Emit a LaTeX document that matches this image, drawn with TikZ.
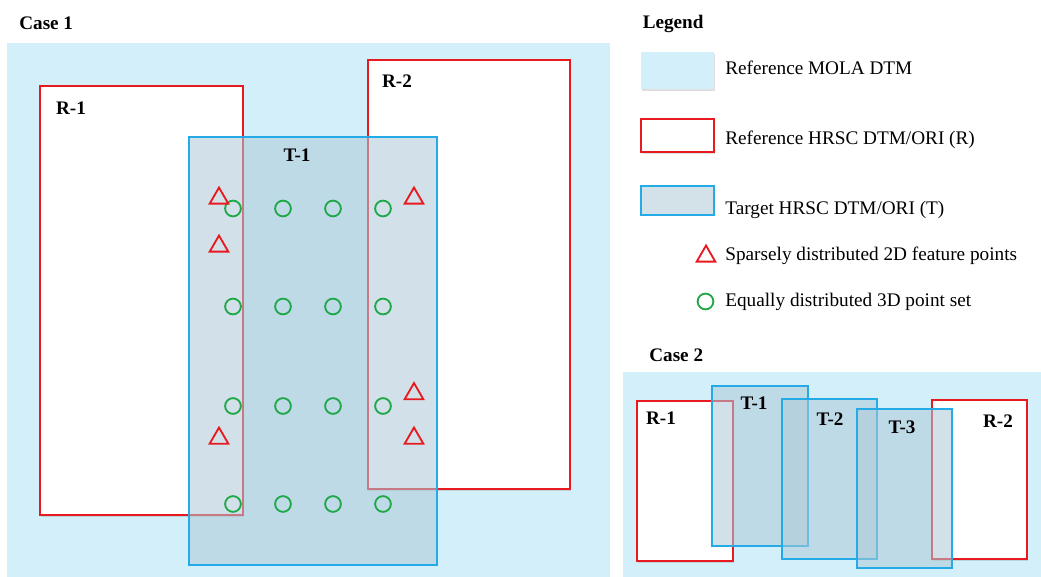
\documentclass[tikz,border=0pt]{standalone}
\usepackage{fontspec}
\setmainfont{Liberation Serif}
\usetikzlibrary{shapes.geometric, shadows}

\definecolor{molablue}{RGB}{210,239,250}
\definecolor{hrscred}{RGB}{232,26,32}
\definecolor{hrscblue}{RGB}{36,170,230}
\definecolor{tfill}{RGB}{174,202,215}
\definecolor{ptgreen}{RGB}{30,168,72}

\tikzset{
	boxshadow/.style={drop shadow={shadow xshift=0.5pt, shadow yshift=-1pt, opacity=0.25}},
	rbox/.style={draw=hrscred, line width=1.1pt, fill=white},
	tbox/.style={draw=hrscblue, line width=1.1pt, fill=tfill, fill opacity=0.55},
	lbl/.style={font=\bfseries\fontsize{10.9}{13}\selectfont, inner sep=0pt},
	txt/.style={font=\fontsize{10.95}{13}\selectfont, anchor=base west, inner sep=0pt},
	pt3d/.style={circle, draw=ptgreen, line width=1.05pt, minimum size=3.15mm, inner sep=0pt},
	feat/.style={regular polygon, regular polygon sides=3, draw=hrscred, line width=1.05pt, minimum size=4.3mm, inner sep=0pt},
}

\begin{document}
\begin{tikzpicture}[x=0.02cm, y=-0.02cm]
	\useasboundingbox (0,0) rectangle (1041,577);
	
	% Case 1
	\begin{scope}
		\node[lbl, anchor=base west] (case1) at (19,29.5) {Case 1};
		\fill[molablue] (7,43) rectangle (610,577);
		
		% Reference and target tiles
		\draw[rbox, boxshadow] (40,86) rectangle (243,515);
		\draw[rbox, boxshadow] (368,60) rectangle (570,489);
		\draw[tbox] (189,137) rectangle (437,565);
		\node[lbl] (c1r1) at (71,108) {R-1};
		\node[lbl] (c1r2) at (397,81) {R-2};
		\node[lbl] (c1t1) at (297,155) {T-1};
		
		% 3D point set on a regular grid
		\foreach \cx [count=\i] in {233,283,333,383}
			\foreach \cy [count=\j] in {208.5,306.5,406,504}
				\node[pt3d] (p-\i-\j) at (\cx,\cy) {};
		
		% 2D feature points in the overlaps
		\node[feat] (f1) at (219,198.3) {};
		\node[feat] (f2) at (219,246.3) {};
		\node[feat] (f3) at (219,438.3) {};
		\node[feat] (f4) at (414,198.3) {};
		\node[feat] (f5) at (414,393.8) {};
		\node[feat] (f6) at (414,438.3) {};
	\end{scope}
	
	% Legend
	\begin{scope}
		\node[lbl, anchor=base west] (legend) at (642.5,29) {Legend};
		\fill[molablue, boxshadow] (641,52) rectangle (714,89);
		\draw[rbox, boxshadow] (641,119) rectangle (714,152);
		\draw[tbox] (641,186) rectangle (714,215);
		\node[feat] (lgtri) at (706,256.3) {};
		\node[pt3d] (lgcirc) at (705.5,301.5) {};
		\node[txt] (lgmola) at (725,75) {Reference MOLA DTM};
		\node[txt] (lgref) at (725,144.5) {Reference HRSC DTM/ORI (R)};
		\node[txt] (lgtgt) at (725,214.5) {Target HRSC DTM/ORI (T)};
		\node[txt] (lgfeat) at (725,261) {Sparsely distributed 2D feature points};
		\node[txt] (lgpts) at (725,307) {Equally distributed 3D point set};
	\end{scope}
	
	% Case 2
	\begin{scope}
		\node[lbl, anchor=base west] (case2) at (649,361.5) {Case 2};
		\fill[molablue] (623,372) rectangle (1041,577);
		
		\draw[rbox, boxshadow] (637,401) rectangle (733,561);
		\draw[rbox, boxshadow] (932,400) rectangle (1027,559);
		\draw[tbox] (712,386) rectangle (808,546);
		\draw[tbox] (782,399) rectangle (877,559);
		\draw[tbox] (857,409) rectangle (952,568);
		\node[lbl] (c2r1) at (661,418) {R-1};
		\node[lbl] (c2r2) at (998,421) {R-2};
		\node[lbl] (c2t1) at (754,403) {T-1};
		\node[lbl] (c2t2) at (830,419) {T-2};
		\node[lbl] (c2t3) at (902,427) {T-3};
	\end{scope}
\end{tikzpicture}
\end{document}
